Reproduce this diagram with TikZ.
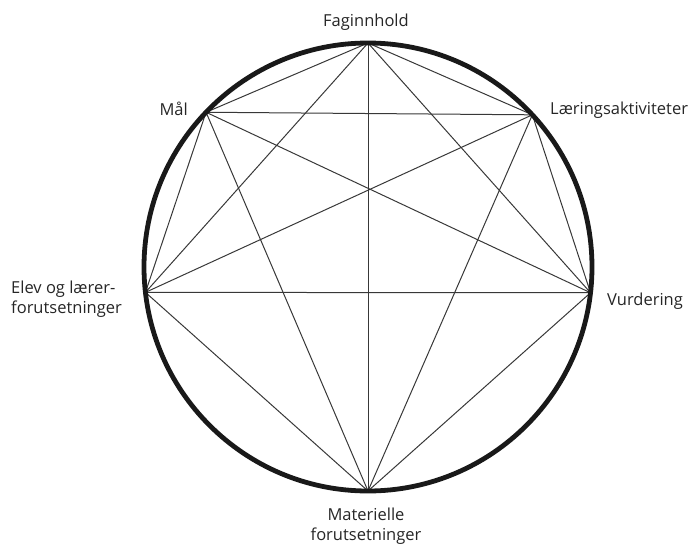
\documentclass[tikz,border=0pt]{standalone}
\usepackage{fontspec}
\setmainfont{Open Sans}
\usetikzlibrary{calc}
\begin{document}
\begin{tikzpicture}[x=1pt,y=-1pt,
  lbl/.style={font=\fontsize{16.5}{20}\selectfont, text=black!85, inner sep=0pt, align=center},
  edge/.style={draw=black!78, line width=1pt}]
\useasboundingbox (0,0) rectangle (696,544);
\coordinate (c) at (368,267);
\def\R{224}
\path (c) ++(0,-\R) coordinate (F);
\path (c) ++(-136.3:\R) coordinate (M);
\path (c) ++(-42.8:\R) coordinate (L);
\path (c) ++(-186.5:\R) coordinate (E);
\path (c) ++(6.6:\R) coordinate (V);
\path (c) ++(0,\R) coordinate (B);
\foreach \a/\b in {F/M,F/L,F/E,F/V,F/B,M/L,M/E,M/V,M/B,L/E,L/V,L/B,E/V,E/B,V/B}
  \draw[edge] (\a) -- (\b);
\draw[line width=4.8pt, black!90] (c) circle (\R);
\node[lbl, anchor=base] (tF) at (366,26) {Faginnhold};
\node[lbl, anchor=base east] (tM) at (188,115) {Mål};
\node[lbl, anchor=base west] (tL) at (550,114) {Læringsaktiviteter};
\node[lbl, anchor=north west, align=left] (tE) at (11,280.5) {Elev og lærer-\\forutsetninger};
\node[lbl, anchor=base west] (tV) at (607,305) {Vurdering};
\node[lbl, anchor=north] (tB) at (366,507.5) {Materielle\\forutsetninger};
\end{tikzpicture}
\end{document}
